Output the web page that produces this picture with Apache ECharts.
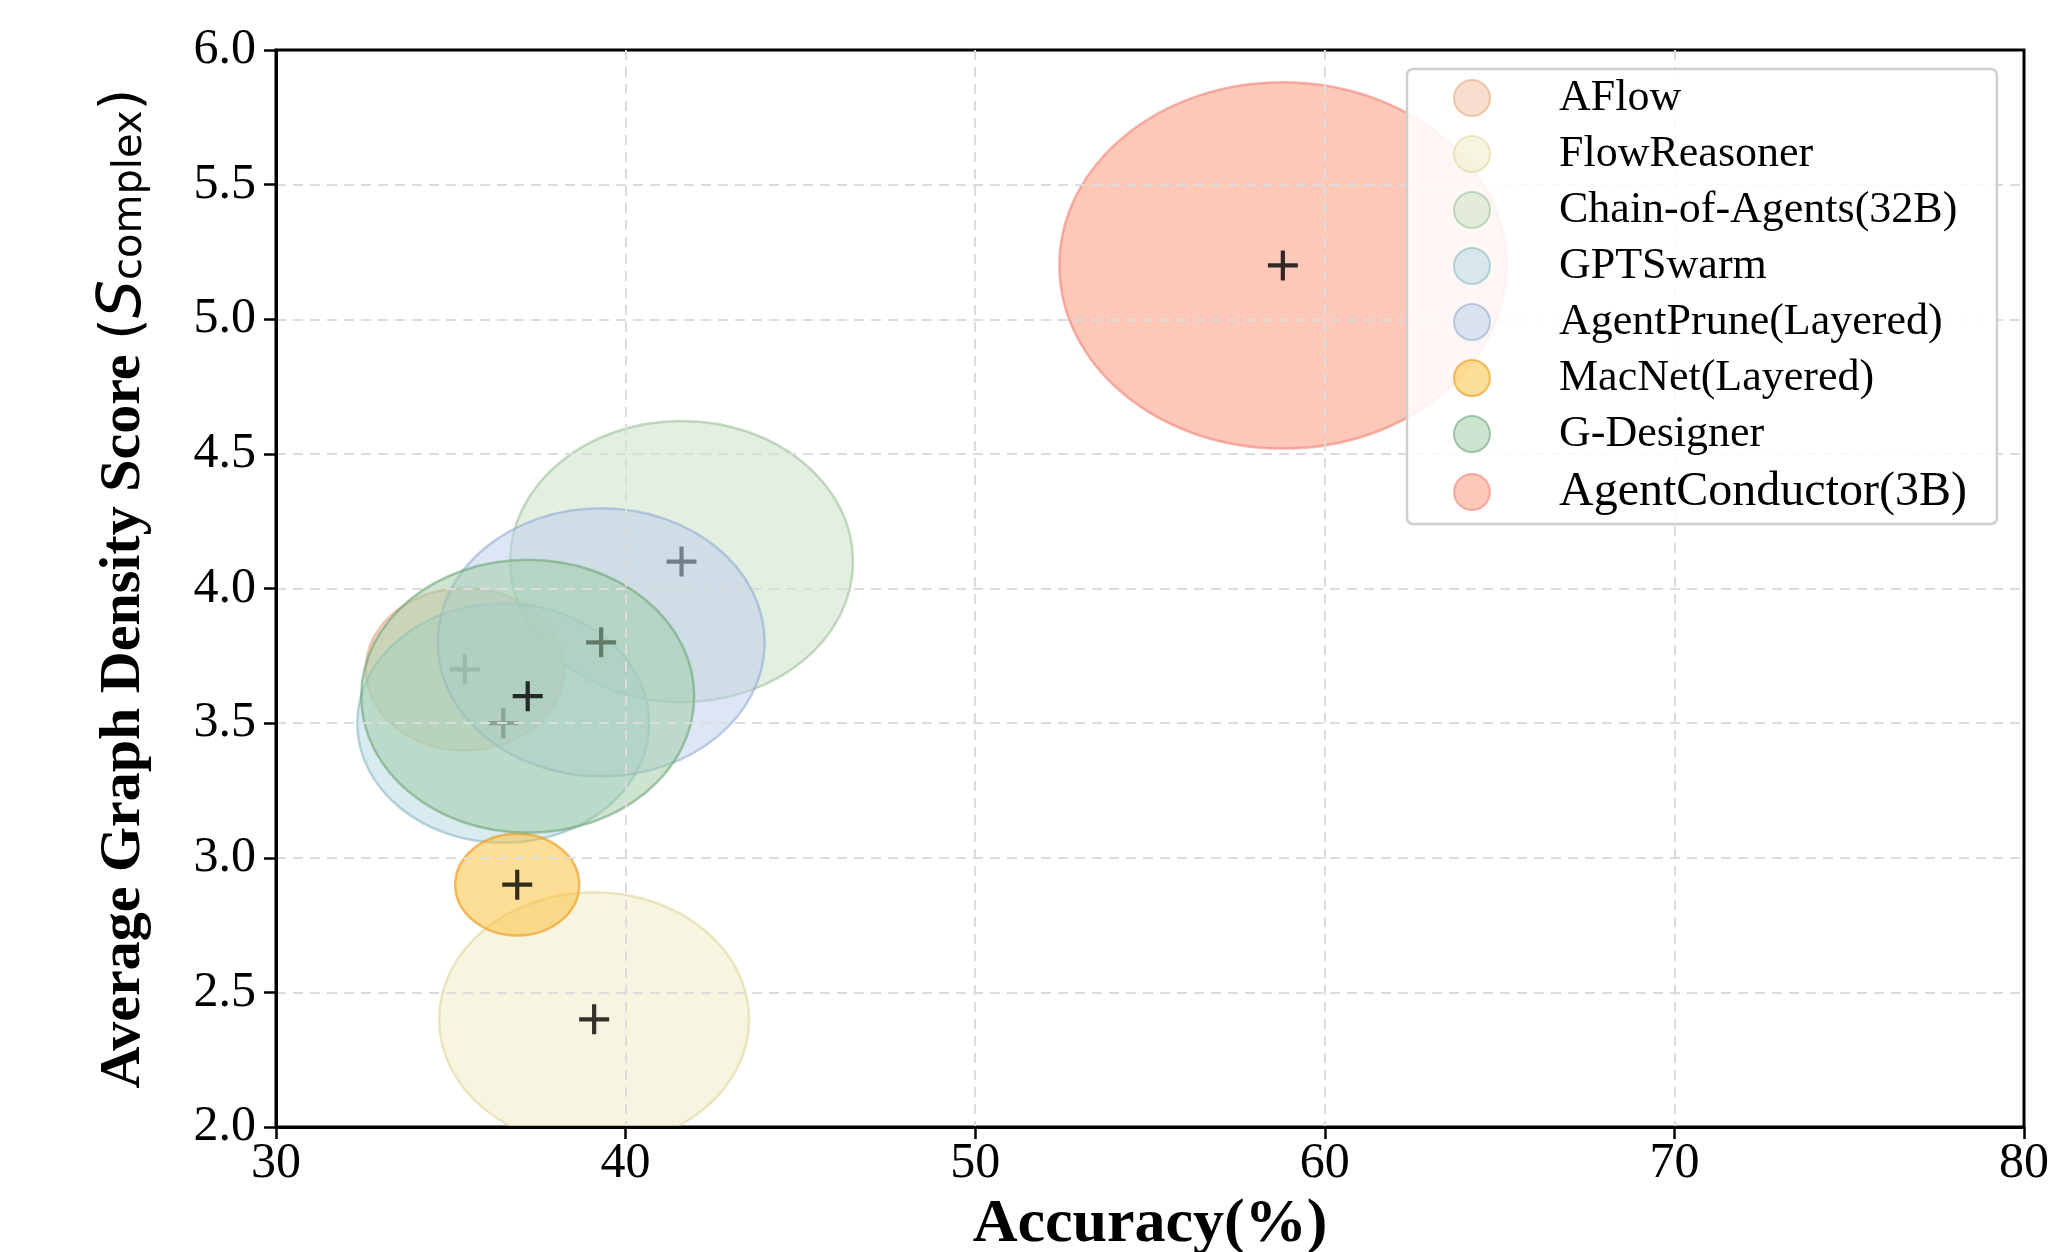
<!DOCTYPE html>
<html>
<head>
<meta charset="utf-8">
<script src="https://cdn.jsdelivr.net/npm/echarts@6/dist/echarts.min.js"></script>
<style>html,body{margin:0;padding:0;background:#fff;}#c{width:2050px;height:1252px;}</style>
</head>
<body>
<div id="c"></div>
<script>
// ---- data ----
var methods = ['AFlow','FlowReasoner','Chain-of-Agents(32B)','GPTSwarm','AgentPrune(Layered)','MacNet(Layered)','G-Designer','AgentConductor(3B)'];
var accuracy = [35.4, 39.1, 41.6, 36.5, 39.3, 36.9, 37.2, 58.8];
var density  = [3.7, 2.4, 4.1, 3.5, 3.8, 2.9, 3.6, 5.2];
var bubble   = [198, 310, 343, 292, 327, 124, 333, 447];
var xTicks = [30, 40, 50, 60, 70, 80];
var yTicks = [2.0, 2.5, 3.0, 3.5, 4.0, 4.5, 5.0, 5.5, 6.0];

// ---- styles ----
var fills = ['rgba(243,189,155,0.5)','rgba(239,235,193,0.5)','rgba(199,223,193,0.5)','rgba(177,215,225,0.5)',
             'rgba(187,205,235,0.5)','rgba(251,189,45,0.5)','rgba(155,203,161,0.5)','rgba(253,145,115,0.5)'];
var edges = ['rgba(230,160,120,0.55)','rgba(220,210,150,0.55)','rgba(150,190,145,0.55)','rgba(130,180,195,0.55)',
             'rgba(140,165,210,0.55)','rgba(240,160,40,0.7)','rgba(110,165,120,0.6)','rgba(240,120,110,0.55)'];
var ASPECT = 1.22;
var plus = 'path://M0.43,0H0.57V0.43H1V0.57H0.57V1H0.43V0.57H0V0.43H0.43Z';

var series = [];
methods.forEach(function(m, i){
  series.push({
    name: m, type: 'custom', clip: true, z: 10 + 2 * i,
    data: [[accuracy[i], density[i], bubble[i]]],
    encode: { x: 0, y: 1 },
    itemStyle: { color: fills[i], borderColor: edges[i], borderWidth: 2.5 },
    renderItem: function(params, api){
      var p = api.coord([api.value(0), api.value(1)]);
      var w = api.value(2);
      return {
        type: 'ellipse',
        shape: { cx: p[0], cy: p[1], rx: w / 2, ry: w / 2 / ASPECT },
        style: { fill: fills[i], stroke: edges[i], lineWidth: 2.5 }
      };
    },
    emphasis: { disabled: true }
  });
  series.push({
    name: '_c_' + m, type: 'scatter', z: 11 + 2 * i,
    data: [[accuracy[i], density[i]]],
    symbol: plus, symbolSize: 30,
    itemStyle: { color: '#000' },
    emphasis: { disabled: true }
  });
});

var chart = echarts.init(document.getElementById('c'), null, {renderer: 'canvas'});
chart.setOption({
  backgroundColor: '#fff',
  animation: false,
  grid: { left: 276, right: 26, top: 50, bottom: 125, outerBoundsMode: 'none', containLabel: false,
          show: true, borderColor: '#000', borderWidth: 3, backgroundColor: 'transparent' },
  legend: {
    data: methods, orient: 'vertical', left: 1407, top: 69, z: 100,
    icon: 'circle', itemWidth: 36, itemHeight: 36, itemGap: 12,
    padding: [7, 30, 8, 46],
    backgroundColor: 'rgba(255,255,255,0.85)', borderColor: '#cfcfcf', borderWidth: 2.5, borderRadius: 6,
    formatter: function(n){ return n === 'AgentConductor(3B)' ? '{big|' + n + '}' : n; },
    textStyle: { fontFamily: 'Liberation Serif', fontSize: 44, color: '#000', padding: [0, 0, 0, 64],
      rich: { big: { fontFamily: 'Liberation Serif', fontSize: 48, color: '#000' } } }
  },
  xAxis: {
    type: 'value', min: 30, max: 80, interval: 10, z: 50,
    name: 'Accuracy(%)', nameLocation: 'middle', nameGap: 66,
    nameTextStyle: { fontFamily: 'Liberation Serif', fontWeight: 'bold', fontSize: 62, color: '#000' },
    axisLine: { show: true, lineStyle: { color: '#000', width: 3 } },
    axisTick: { show: true, length: 12, lineStyle: { color: '#000', width: 2.5 } },
    axisLabel: { fontFamily: 'Liberation Serif', fontSize: 50, color: '#000', margin: 12,
      formatter: function(v){ return xTicks.indexOf(v) >= 0 ? String(v) : ''; } },
    splitLine: { show: true, showMinLine: false, showMaxLine: false, lineStyle: { color: '#dcdcdc', width: 2, type: [10, 7] } }
  },
  yAxis: {
    type: 'value', min: 2, max: 6, interval: 0.5, z: 50,
    name: '{b|Average Graph Density Score }{p|(}{s|S}{c|complex}{p|)}',
    nameLocation: 'middle', nameGap: 122, nameRotate: 90,
    nameTextStyle: {
      rich: {
        b: { fontFamily: 'Liberation Serif', fontWeight: 'bold', fontSize: 58, color: '#000' },
        p: { fontFamily: 'DejaVu Sans', fontSize: 56, color: '#000' },
        s: { fontFamily: 'DejaVu Sans', fontStyle: 'italic', fontSize: 60, color: '#000' },
        c: { fontFamily: 'DejaVu Sans', fontSize: 40, color: '#000', padding: [14, 0, 0, 0] }
      }
    },
    axisLine: { show: true, lineStyle: { color: '#000', width: 3 } },
    axisTick: { show: true, length: 12, lineStyle: { color: '#000', width: 2.5 } },
    axisLabel: { fontFamily: 'Liberation Serif', fontSize: 50, color: '#000', margin: 20,
      formatter: function(v){ return v.toFixed(1); } },
    splitLine: { show: true, showMinLine: false, showMaxLine: false, lineStyle: { color: '#dcdcdc', width: 2, type: [10, 7] } }
  },
  series: series
});
</script>
</body>
</html>
